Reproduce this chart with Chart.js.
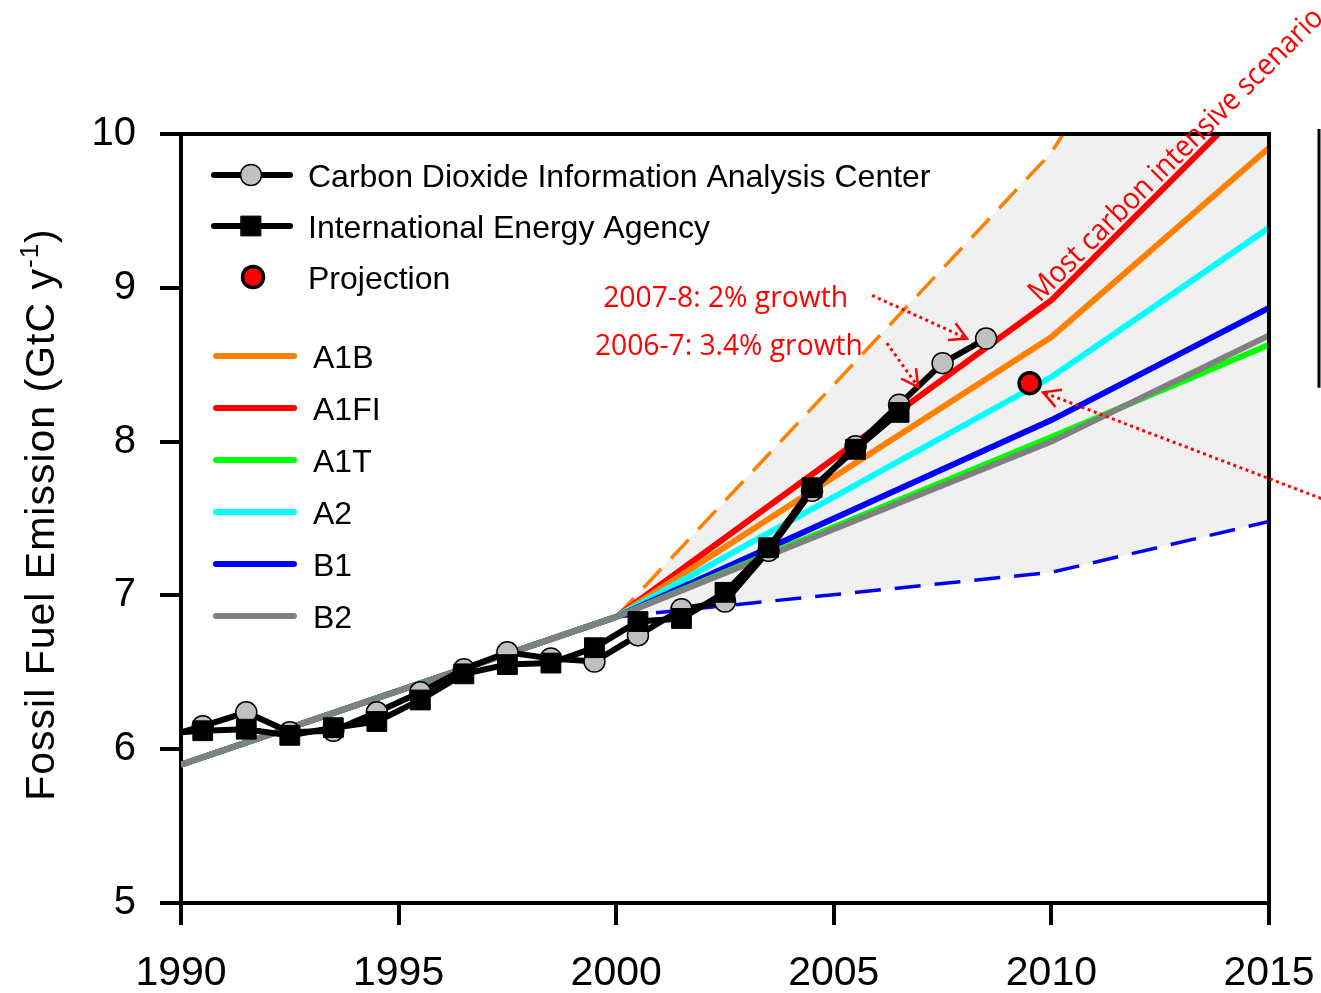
<!DOCTYPE html>
<html>
<head>
<meta charset="utf-8">
<title>Fossil fuel emission and SRES scenarios</title>
<script src="https://cdn.jsdelivr.net/npm/chart.js@4/dist/chart.umd.min.js"></script>
<style>
  html, body { margin: 0; padding: 0; background: #fff; }
  #wrap { width: 1321px; height: 993px; }
</style>
</head>
<body>
<div id="wrap"><canvas id="emissionChart" width="1321" height="993"></canvas></div>
<script>
// observed series, plotted at mid-year (first point lies left of the axis and gets clipped)
const obsYears = [1989.5, 1990.5, 1991.5, 1992.5, 1993.5, 1994.5, 1995.5, 1996.5, 1997.5, 1998.5,
                  1999.5, 2000.5, 2001.5, 2002.5, 2003.5, 2004.5, 2005.5, 2006.5, 2007.5, 2008.5];
const cdiacValues = [6.07, 6.15, 6.24, 6.11, 6.12, 6.24, 6.37, 6.52, 6.63, 6.59,
                     6.57, 6.74, 6.91, 6.96, 7.29, 7.68, 7.97, 8.24, 8.51, 8.67];
const ieaValues = [6.10, 6.12, 6.13, 6.09, 6.14, 6.18, 6.32, 6.49, 6.55, 6.56,
                   6.66, 6.83, 6.85, 7.02, 7.31, 7.70, 7.95, 8.19];
const projYears = [2009.5];
const projValues = [8.38];

// IPCC SRES scenarios
const scenarioYears = [1990, 2000, 2010, 2015];
const a1bValues  = [5.90, 6.86, 8.68, 9.91];
const a1fiValues = [5.90, 6.86, 8.92, 10.33];
const a1tValues  = [5.90, 6.86, 8.03, 8.63];
const a2Values   = [5.90, 6.86, 8.42, 9.39];
const b1Values   = [5.90, 6.86, 8.14, 8.87];
const b2Values   = [5.90, 6.86, 8.00, 8.69];

// envelope of all scenarios
const rangeYears = [2000, 2010, 2015];
const rangeUpper = [6.86, 9.88, 12.1];
const rangeLower = [6.86, 7.15, 7.48];

const xTicks = [1990, 1995, 2000, 2005, 2010, 2015];
const yTicks = [5, 6, 7, 8, 9, 10];

const FONT = "'Liberation Sans', Arial, sans-serif";
const NOTE_FONT = "'Open Sans', 'Noto Sans', sans-serif";

// red notes, anchored in data units
const growthNotes = [
  { text: '2007-8: 2% growth', x: 1999.70, y: 8.875, width: 245, from: [2005.88, 8.95], to: [2008.06, 8.67] },
  { text: '2006-7: 3.4% growth', x: 1999.51, y: 8.563, width: 268, from: [2006.22, 8.64], to: [2006.94, 8.355] }
];
const projArrow = { from: [2016.2, 7.63], to: [2009.81, 8.32] };
const intensiveNote = { text: 'Most carbon intensive scenario', x: 2009.74, y: 8.90, width: 402 };

const pts = (xs, ys) => ys.map((y, i) => ({ x: xs[i], y: y }));

const scenarioLine = (label, color, values) => ({
  label: label,
  data: pts(scenarioYears, values),
  borderColor: color,
  backgroundColor: color,
  borderWidth: 6,
  pointRadius: 0,
  fill: false
});

const datasets = [
  {
    label: 'Projection',
    data: pts(projYears, projValues),
    showLine: false,
    pointStyle: 'circle',
    pointRadius: 10.5,
    pointBackgroundColor: '#ff0000',
    pointBorderColor: '#000',
    pointBorderWidth: 3.5,
    borderColor: '#000'
  },
  {
    label: 'International Energy Agency',
    data: pts(obsYears, ieaValues),
    borderColor: '#000',
    borderWidth: 6,
    pointStyle: 'rect',
    pointRadius: 14,
    pointBackgroundColor: '#000',
    pointBorderColor: '#000',
    pointBorderWidth: 1
  },
  {
    label: 'Carbon Dioxide Information Analysis Center',
    data: pts(obsYears, cdiacValues),
    borderColor: '#000',
    borderWidth: 6,
    pointStyle: 'circle',
    pointRadius: 10.5,
    pointBackgroundColor: '#c0c0c0',
    pointBorderColor: '#000',
    pointBorderWidth: 1.5
  },
  scenarioLine('B2', '#808080', b2Values),
  scenarioLine('A1T', '#00ff00', a1tValues),
  scenarioLine('B1', '#0000ff', b1Values),
  scenarioLine('A2', '#00ffff', a2Values),
  scenarioLine('A1B', '#ff8000', a1bValues),
  scenarioLine('A1FI', '#ff0000', a1fiValues),
  {
    label: 'lower',
    data: pts(rangeYears, rangeLower),
    borderColor: '#0000ff',
    borderWidth: 3.5,
    borderDash: [26, 14],
    pointRadius: 0,
    fill: false
  },
  {
    label: 'upper',
    data: pts(rangeYears, rangeUpper),
    borderColor: '#ff8000',
    borderWidth: 3.5,
    borderDash: [26, 14],
    pointRadius: 0,
    backgroundColor: '#f0f0f0',
    fill: '-1'
  }
];

const legendTop = ['Carbon Dioxide Information Analysis Center', 'International Energy Agency', 'Projection'];
const legendScen = ['A1B', 'A1FI', 'A1T', 'A2', 'B1', 'B2'];

function fitText(ctx, text, x, y, width) {
  const w = ctx.measureText(text).width;
  ctx.save();
  ctx.translate(x, y);
  ctx.scale(width / w, 1);
  ctx.fillText(text, 0, 0);
  ctx.restore();
}

function dottedArrow(ctx, x0, y0, x1, y1) {
  ctx.save();
  ctx.strokeStyle = '#ff0000';
  ctx.lineWidth = 3;
  ctx.setLineDash([3, 3.5]);
  ctx.beginPath();
  ctx.moveTo(x0, y0);
  ctx.lineTo(x1, y1);
  ctx.stroke();
  ctx.setLineDash([]);
  ctx.lineWidth = 2.5;
  const a = Math.atan2(y1 - y0, x1 - x0);
  const len = 19, spread = 0.5;
  ctx.beginPath();
  ctx.moveTo(x1 - len * Math.cos(a - spread), y1 - len * Math.sin(a - spread));
  ctx.lineTo(x1, y1);
  ctx.lineTo(x1 - len * Math.cos(a + spread), y1 - len * Math.sin(a + spread));
  ctx.stroke();
  ctx.restore();
}

const decorPlugin = {
  id: 'decor',
  afterDatasetsDraw(chart) {
    const ctx = chart.ctx;
    const area = chart.chartArea;
    const xs = chart.scales.x, ys = chart.scales.y;
    const px = v => xs.getPixelForValue(v);
    const py = v => ys.getPixelForValue(v);

    // top and right frame
    ctx.save();
    ctx.strokeStyle = '#000';
    ctx.lineWidth = 4;
    ctx.beginPath();
    ctx.moveTo(area.left - 2, area.top);
    ctx.lineTo(area.right, area.top);
    ctx.lineTo(area.right, area.bottom);
    ctx.stroke();
    ctx.restore();

    // cut-off frame of a neighbouring panel
    ctx.save();
    ctx.strokeStyle = '#000';
    ctx.lineWidth = 3;
    ctx.beginPath();
    ctx.moveTo(area.right + 50, area.top - 5);
    ctx.lineTo(area.right + 50, py(8.35));
    ctx.stroke();
    ctx.restore();

    // growth notes with dotted arrows
    ctx.save();
    ctx.fillStyle = '#ff0000';
    ctx.font = `29px ${NOTE_FONT}`;
    ctx.textBaseline = 'alphabetic';
    ctx.textAlign = 'left';
    growthNotes.forEach(n => {
      fitText(ctx, n.text, px(n.x), py(n.y), n.width);
      dottedArrow(ctx, px(n.from[0]), py(n.from[1]), px(n.to[0]), py(n.to[1]));
    });
    dottedArrow(ctx, px(projArrow.from[0]), py(projArrow.from[1]), px(projArrow.to[0]), py(projArrow.to[1]));

    // label along the A1FI line
    const ang = Math.atan2(py(a1fiValues[3]) - py(a1fiValues[2]), px(scenarioYears[3]) - px(scenarioYears[2]));
    ctx.save();
    ctx.font = `30px ${NOTE_FONT}`;
    ctx.translate(px(intensiveNote.x), py(intensiveNote.y));
    ctx.rotate(ang);
    fitText(ctx, intensiveNote.text, 0, 0, intensiveNote.width);
    ctx.restore();
    ctx.restore();
  },
  afterDraw(chart) {
    const ctx = chart.ctx;
    const area = chart.chartArea;
    const byLabel = {};
    chart.data.datasets.forEach(d => { byLabel[d.label] = d; });

    // legend
    ctx.save();
    ctx.font = `32px ${FONT}`;
    ctx.fillStyle = '#000';
    ctx.textBaseline = 'alphabetic';
    ctx.lineCap = 'round';
    const l0 = area.left;
    legendTop.forEach((lab, i) => {
      const d = byLabel[lab];
      const y = area.top + 41 + i * 51;
      if (d.showLine !== false) {
        ctx.strokeStyle = d.borderColor;
        ctx.lineWidth = 6;
        ctx.beginPath();
        ctx.moveTo(l0 + 33, y);
        ctx.lineTo(l0 + 109, y);
        ctx.stroke();
      }
      const mx = l0 + 70 + (d.showLine === false ? 2 : 0);
      ctx.fillStyle = d.pointBackgroundColor;
      ctx.strokeStyle = d.pointBorderColor;
      ctx.lineWidth = d.pointBorderWidth;
      ctx.beginPath();
      if (d.pointStyle === 'rect') {
        const s = d.pointRadius * Math.SQRT1_2;
        ctx.rect(mx - s, y - s, 2 * s, 2 * s);
      } else {
        ctx.arc(mx, y, d.pointRadius, 0, Math.PI * 2);
      }
      ctx.fill();
      ctx.stroke();
      ctx.fillStyle = '#000';
      ctx.fillText(lab, l0 + 127, y + 11.5);
    });
    legendScen.forEach((lab, i) => {
      const d = byLabel[lab];
      const y = area.top + 222 + i * 52;
      ctx.strokeStyle = d.borderColor;
      ctx.lineWidth = 6;
      ctx.beginPath();
      ctx.moveTo(l0 + 35, y);
      ctx.lineTo(l0 + 113, y);
      ctx.stroke();
      ctx.fillStyle = '#000';
      ctx.fillText(lab, l0 + 132, y + 11.5);
    });
    ctx.restore();

    // y axis title with superscript
    ctx.save();
    ctx.translate(area.left - 127, (area.top + area.bottom) / 2 - 4);
    ctx.rotate(-Math.PI / 2);
    ctx.fillStyle = '#000';
    ctx.textBaseline = 'alphabetic';
    ctx.letterSpacing = '1px';
    const main = 'Fossil Fuel Emission (GtC y';
    ctx.font = `41px ${FONT}`;
    const wMain = ctx.measureText(main).width;
    const wClose = ctx.measureText(')').width;
    ctx.font = `26px ${FONT}`;
    const wSup = ctx.measureText('-1').width;
    let x = -(wMain + wSup + wClose) / 2;
    ctx.font = `41px ${FONT}`;
    ctx.fillText(main, x, 0);
    x += wMain;
    ctx.font = `26px ${FONT}`;
    ctx.fillText('-1', x, -16);
    x += wSup;
    ctx.font = `41px ${FONT}`;
    ctx.fillText(')', x, 0);
    ctx.restore();
  }
};

new Chart(document.getElementById('emissionChart'), {
  type: 'line',
  data: { datasets: datasets },
  options: {
    responsive: false,
    animation: false,
    events: [],
    devicePixelRatio: 1,
    layout: { padding: { top: 134, right: 52, left: 0, bottom: 0 } },
    elements: { line: { tension: 0 } },
    plugins: {
      legend: { display: false },
      tooltip: { enabled: false },
      title: { display: false }
    },
    scales: {
      x: {
        type: 'linear',
        min: 1990,
        max: 2015,
        afterBuildTicks: s => { s.ticks = xTicks.map(v => ({ value: v })); },
        afterFit: s => { s.height = 90; s.paddingLeft = 0; s.paddingRight = 0; },
        ticks: {
          color: '#000',
          font: { family: FONT, size: 41 },
          padding: 24,
          maxRotation: 0,
          autoSkip: false,
          callback: v => String(v)
        },
        grid: { drawOnChartArea: false, drawTicks: true, tickLength: 22, lineWidth: 4, color: '#000' },
        border: { display: true, width: 4, color: '#000' }
      },
      y: {
        type: 'linear',
        min: 5,
        max: 10,
        afterBuildTicks: s => { s.ticks = yTicks.map(v => ({ value: v })); },
        afterFit: s => { s.width = 181; s.paddingTop = 0; s.paddingBottom = 0; },
        ticks: {
          color: '#000',
          font: { family: FONT, size: 40 },
          padding: 24,
          callback: v => String(v)
        },
        grid: { drawOnChartArea: false, drawTicks: true, tickLength: 21, lineWidth: 4, color: '#000' },
        border: { display: true, width: 4, color: '#000' }
      }
    }
  },
  plugins: [decorPlugin]
});
</script>
</body>
</html>
